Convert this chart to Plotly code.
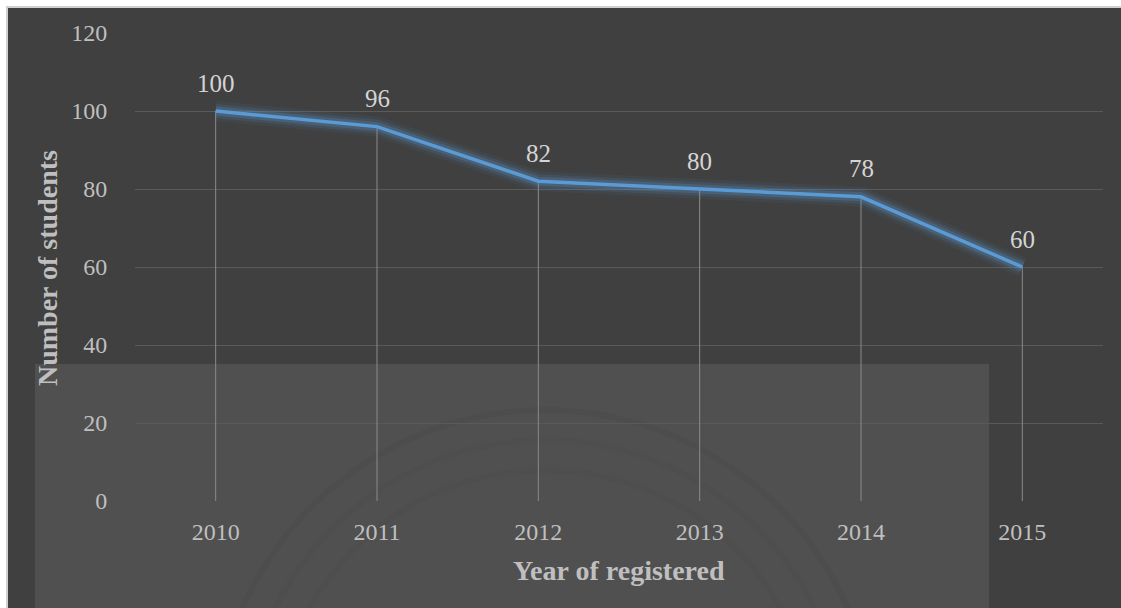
import plotly.graph_objects as go

years = ["2010", "2011", "2012", "2013", "2014", "2015"]
students = [100, 96, 82, 80, 78, 60]
y_ticks = [0, 20, 40, 60, 80, 100, 120]
x_title = "Year of registered"
y_title = "Number of students"

W, H = 1121, 608
L, R, T, B = 135, 18, 33, 107
pw, ph = W - L - R, H - T - B


def px(x):
    return (x - L) / pw


def py(y):
    return (H - B - y) / ph


fig = go.Figure()

# drop lines
dx, dy = [], []
for yr, v in zip(years, students):
    dx += [yr, yr, None]
    dy += [v, 0, None]
fig.add_trace(go.Scatter(x=dx, y=dy, mode="lines",
                         line=dict(color="#8a8a8a", width=1), hoverinfo="skip"))

# glow
for w, a in [(20, 0.07), (14, 0.12), (9, 0.22)]:
    fig.add_trace(go.Scatter(x=years, y=students, mode="lines",
                             line=dict(color=f"rgba(91,155,213,{a})", width=w),
                             hoverinfo="skip"))
fig.add_trace(go.Scatter(x=years, y=students, mode="lines",
                         line=dict(color="#5b9bd5", width=3.5)))

for i, v in enumerate(students):
    fig.add_annotation(x=i, y=v, text=str(v), showarrow=False, yshift=28,
                       xanchor="center", yanchor="middle",
                       font=dict(family="Liberation Serif", size=25, color="#d4d4d4"))

shapes = [
    dict(type="rect", xref="paper", yref="paper", x0=px(7), x1=px(W + 10),
         y0=py(H + 10), y1=py(7), fillcolor="#404040",
         line=dict(color="#d0d0d0", width=2), layer="below"),
    dict(type="rect", xref="paper", yref="paper", x0=px(35), x1=px(989),
         y0=py(H + 10), y1=py(364), fillcolor="#505050", line=dict(width=0), layer="below"),
]
for r, c in [(330, "rgba(0,0,0,0.035)"), (300, "rgba(0,0,0,0.025)"), (270, "rgba(0,0,0,0.025)")]:
    cx, cy = 545, 740
    shapes.append(dict(type="circle", xref="paper", yref="paper",
                       x0=px(cx - r), x1=px(cx + r), y0=py(cy + r), y1=py(cy - r),
                       line=dict(color=c, width=6), layer="below"))

fig.add_annotation(xref="paper", yref="paper", x=px(619), y=py(570), text=f"<b>{x_title}</b>",
                   showarrow=False, xanchor="center", yanchor="middle",
                   font=dict(family="Liberation Serif", size=28, color="#bfbfbf"))
fig.add_annotation(xref="paper", yref="paper", x=px(47), y=py(268), text=f"<b>{y_title}</b>",
                   showarrow=False, textangle=-90, xanchor="center", yanchor="middle",
                   font=dict(family="Liberation Serif", size=28, color="#bfbfbf"))

fig.update_layout(
    width=W, height=H, margin=dict(l=L, r=R, t=T, b=B),
    paper_bgcolor="white", plot_bgcolor="rgba(0,0,0,0)",
    showlegend=False, shapes=shapes,
    xaxis=dict(type="category", categoryorder="array", categoryarray=years,
               range=[-0.5, 5.5], showgrid=False, zeroline=False, showline=False,
               tickfont=dict(family="Liberation Serif", size=24, color="#bfbfbf"),
               ticks="outside", ticklen=9, tickcolor="rgba(0,0,0,0)"),
    yaxis=dict(range=[0, 120], tickvals=y_ticks, showgrid=True, gridcolor="#5a5a5a",
               gridwidth=1, zeroline=False, showline=False,
               tickfont=dict(family="Liberation Serif", size=24, color="#bfbfbf"),
               ticks="outside", ticklen=22, tickcolor="rgba(0,0,0,0)"),
)

fig.write_html("out.html")
